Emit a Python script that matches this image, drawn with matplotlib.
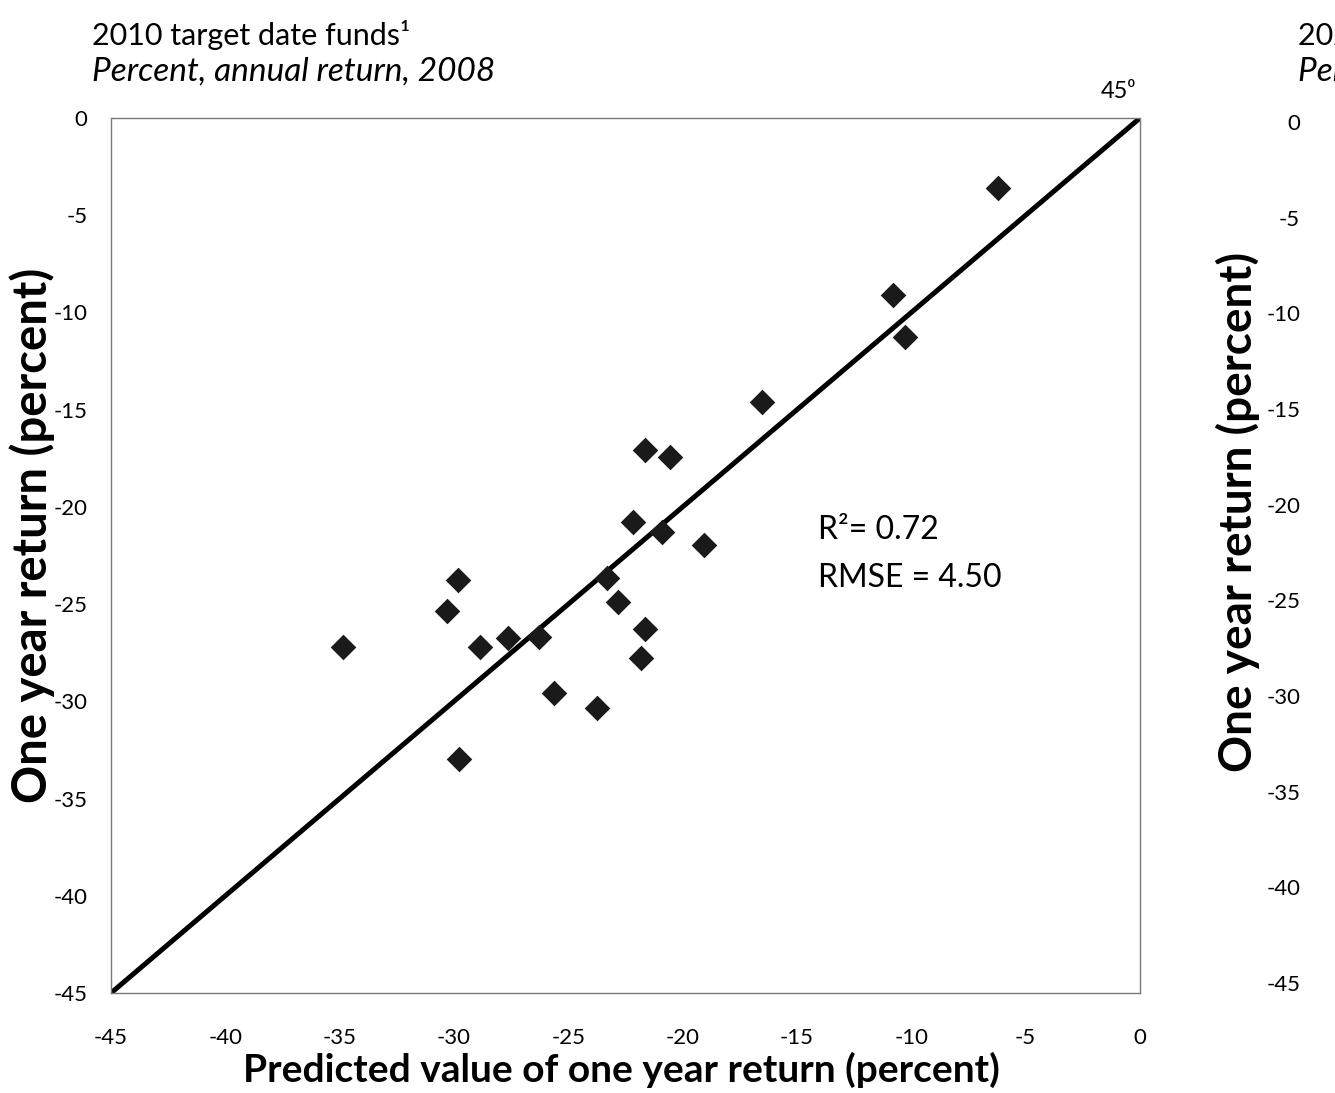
import matplotlib
matplotlib.use("Agg")
import matplotlib.pyplot as plt

plt.rcParams['font.family'] = ['Lato', 'DejaVu Sans']

# Data
predicted = [-6.22, -10.81, -10.28, -16.53, -21.65, -20.56, -22.18, -20.91, -19.07,
             -29.83, -30.31, -34.86, -28.87, -27.64, -26.29, -23.31, -22.83, -21.65,
             -21.83, -25.63, -23.75, -29.78]
actual = [-3.60, -9.10, -11.27, -14.61, -17.08, -17.44, -20.78, -21.30, -21.96,
          -23.77, -25.36, -27.21, -27.21, -26.75, -26.70, -23.66, -24.90, -26.29,
          -27.78, -29.58, -30.35, -32.97]
line_45 = [-45, 0]
ticks = [-45, -40, -35, -30, -25, -20, -15, -10, -5, 0]
tick_labels = ['-45', '-40', '-35', '-30', '-25', '-20', '-15', '-10', '-5', '0']

W, H = 1335, 1093
fig = plt.figure(figsize=(W / 100, H / 100), dpi=100)

def fx(px):
    return px / W

def fy(py):
    return 1 - py / H

ax = fig.add_axes([fx(111), fy(993), fx(1140) - fx(111), fy(118) - fy(993)])
ax.plot(line_45, line_45, color='black', lw=3.6, solid_capstyle='butt', zorder=2)
ax.scatter(predicted, actual, marker='D', s=170, color='#1a1a1a', zorder=3, linewidths=0)
ax.set_xlim(-45, 0)
ax.set_ylim(-45, 0)
ax.set_xticks(ticks)
ax.set_xticklabels(tick_labels)
ax.set_yticks(ticks)
ax.set_yticklabels(tick_labels)
ax.tick_params(axis='x', length=0, pad=25, labelsize=16)
ax.tick_params(axis='y', length=0, pad=17, labelsize=16)
for sp in ax.spines.values():
    sp.set_linestyle((0, (1, 1)))
    sp.set_color('#777777')
    sp.set_linewidth(1.0)

ax.set_xlabel('Predicted value of one year return (percent)', fontsize=28, fontweight='bold')
ax.xaxis.set_label_coords((621 - 111) / 1029, (993 - 1070) / 875)
ax.xaxis.label.set_va('center')
ax.set_ylabel('One year return (percent)', fontsize=34, fontweight='bold')
ax.yaxis.set_label_coords((32 - 111) / 1029, (993 - 535) / 875)
ax.yaxis.label.set_va('center')

ax.text(-14.09, -21.19, 'R²= 0.72', fontsize=23, va='center', ha='left')
ax.text(-14.09, -23.66, 'RMSE = 4.50', fontsize=23, va='center', ha='left')
fig.text(fx(1118), fy(92), '45⁰', fontsize=17, ha='center', va='center')

fig.text(fx(92), fy(35), '2010 target date funds¹', fontsize=22, ha='left', va='center')
fig.text(fx(92), fy(72), 'Percent, annual return, 2008', fontsize=24, style='italic',
         ha='left', va='center')

# Partially visible second panel at the right edge
ax2 = fig.add_axes([fx(1321), fy(983), 0.8, fy(122) - fy(983)])
ax2.set_xlim(-45, 0)
ax2.set_ylim(-45, 0)
ax2.set_yticks(ticks)
ax2.set_yticklabels(tick_labels)
ax2.set_xticks([])
ax2.tick_params(axis='y', length=0, pad=15, labelsize=16)
for sp in ax2.spines.values():
    sp.set_visible(False)
ax2.set_ylabel('One year return (percent)', fontsize=33, fontweight='bold')
ax2.yaxis.set_label_coords((1238 - 1321) / 1068, (983 - 512) / 861)
ax2.yaxis.label.set_va('center')
fig.text(fx(1298), fy(35), '2020 target date funds¹', fontsize=22, ha='left', va='center')
fig.text(fx(1298), fy(72), 'Percent, annual return, 2008', fontsize=24, style='italic',
         ha='left', va='center')

fig.savefig('out.png', dpi=100)
